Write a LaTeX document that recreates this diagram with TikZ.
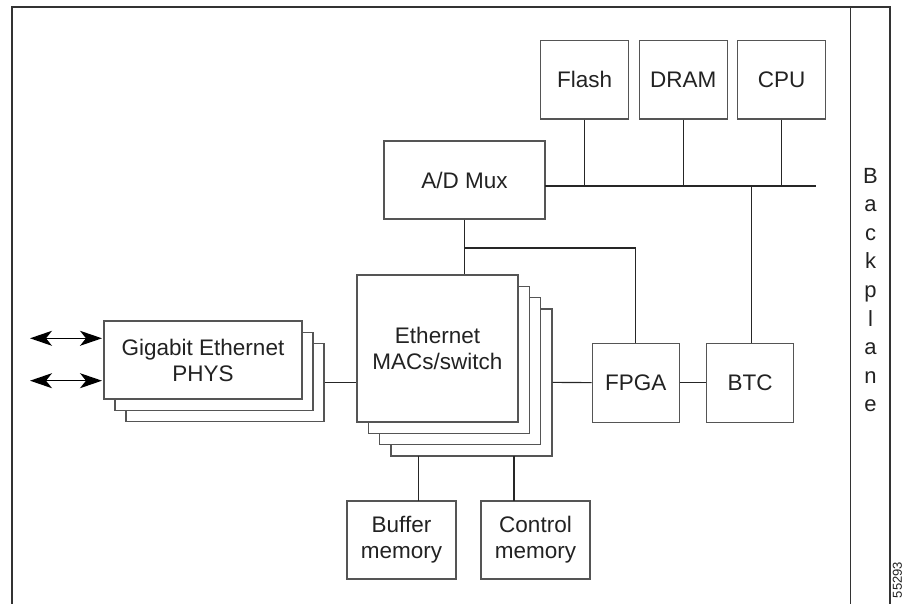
\documentclass[tikz,border=0pt]{standalone}
\usepackage{fontspec}
\setmainfont{Liberation Sans}
\usetikzlibrary{arrows.meta}
\definecolor{linegray}{HTML}{555555}
\definecolor{txt}{HTML}{222222}
\newcommand{\lab}{\fontsize{22.5}{26}\selectfont}
\begin{document}
\begin{tikzpicture}[x=1pt,y=-1pt,
  box/.style={draw=linegray, line width=1.2pt, fill=white, inner sep=0pt,
    align=center, font=\lab, text=txt},
  wire/.style={draw=black!85, line width=1.1pt},
  frame/.style={draw=black!80, line width=1.3pt},
  tipb/.tip={Stealth[length=22pt,width=15pt,inset=6pt]},
  dblarrow/.style={draw=black, line width=1.4pt, tipb-tipb}]
\useasboundingbox (0,0) rectangle (904,604);
% frame
\draw[frame] (12,620) -- (12,7) -- (890,7) -- (890,620);
\draw[frame] (850.5,7) -- (850.5,620);
\node[font=\fontsize{22}{28.6}\selectfont, text=txt, align=center, inner sep=0pt] (bp) at (870.5,290) {B\\a\\c\\k\\p\\l\\a\\n\\e};
\node[font=\fontsize{13}{13}\selectfont, text=txt, rotate=90, inner sep=0pt] (id) at (897.5,580) {55293};
% top boxes
\node[box, minimum width=88pt, minimum height=78.3pt] (flash) at (584.6,79.85) {Flash};
\node[box, minimum width=87.5pt, minimum height=78.3pt] (dram) at (683.35,79.85) {DRAM};
\node[box, minimum width=88pt, minimum height=78.3pt] (cpu) at (781.55,79.85) {CPU};
\node[box, minimum width=161pt, minimum height=78pt] (admux) at (464.5,180) {A/D Mux};
% ethernet stack
\node[box, minimum width=161pt, minimum height=147pt] (eth3) at (471.4,382.4) {};
\node[box, minimum width=161pt, minimum height=147pt] (eth2) at (460.1,371.1) {};
\node[box, minimum width=161pt, minimum height=147pt] (eth1) at (448.8,359.8) {};
\node[box, minimum width=161pt, minimum height=147pt] (eth) at (437.5,348.5) {Ethernet\\MACs/switch};
% gigabit stack
\node[box, minimum width=198pt, minimum height=78pt] (gig2) at (225,382.5) {};
\node[box, minimum width=198pt, minimum height=78pt] (gig1) at (214,371.2) {};
\node[box, minimum width=198pt, minimum height=78pt] (gig) at (203,360) {Gigabit Ethernet\\PHYS};
% fpga btc
\node[box, minimum width=87pt, minimum height=79pt] (fpga) at (635.8,382.6) {FPGA};
\node[box, minimum width=86.6pt, minimum height=79pt] (btc) at (750,382.6) {BTC};
% memories
\node[box, minimum width=109pt, minimum height=78pt] (buf) at (401.5,540) {Buffer\\memory};
\node[box, minimum width=109pt, minimum height=78pt] (ctl) at (535.5,540) {Control\\memory};
% coordinates
\coordinate (busL) at (545,186);
\coordinate (busR) at (816,186);
\coordinate (brk) at (464.3,248);
\coordinate (inL1) at (30,338.3);
\coordinate (inL2) at (30,380.7);
\coordinate (inR1) at (102,338.3);
\coordinate (inR2) at (102,380.7);
% connectors
\draw[wire] (busL) -- (busR);
\draw[wire] (flash.south) -- (flash.south |- busL);
\draw[wire] (dram.south) -- (dram.south |- busL);
\draw[wire] (cpu.south) -- (cpu.south |- busL);
\draw[wire] (btc.north -| 751.7,0) -- (751.7,186);
\draw[wire] (admux.south) -- (admux.south |- eth.north);
\draw[wire] (brk) -- (fpga.north |- brk) -- (fpga.north);
\draw[wire] (gig2.east) -- (eth.west |- gig2.east);
\draw[wire] (eth3.east) -- (fpga.west);
\draw[wire] (fpga.east) -- (btc.west);
\draw[wire] (418.7,456) -- (418.7,501);
\draw[wire] (514,456) -- (514,501);
\draw[dblarrow] (inL1) -- (inR1);
\draw[dblarrow] (inL2) -- (inR2);
\end{tikzpicture}
\end{document}
